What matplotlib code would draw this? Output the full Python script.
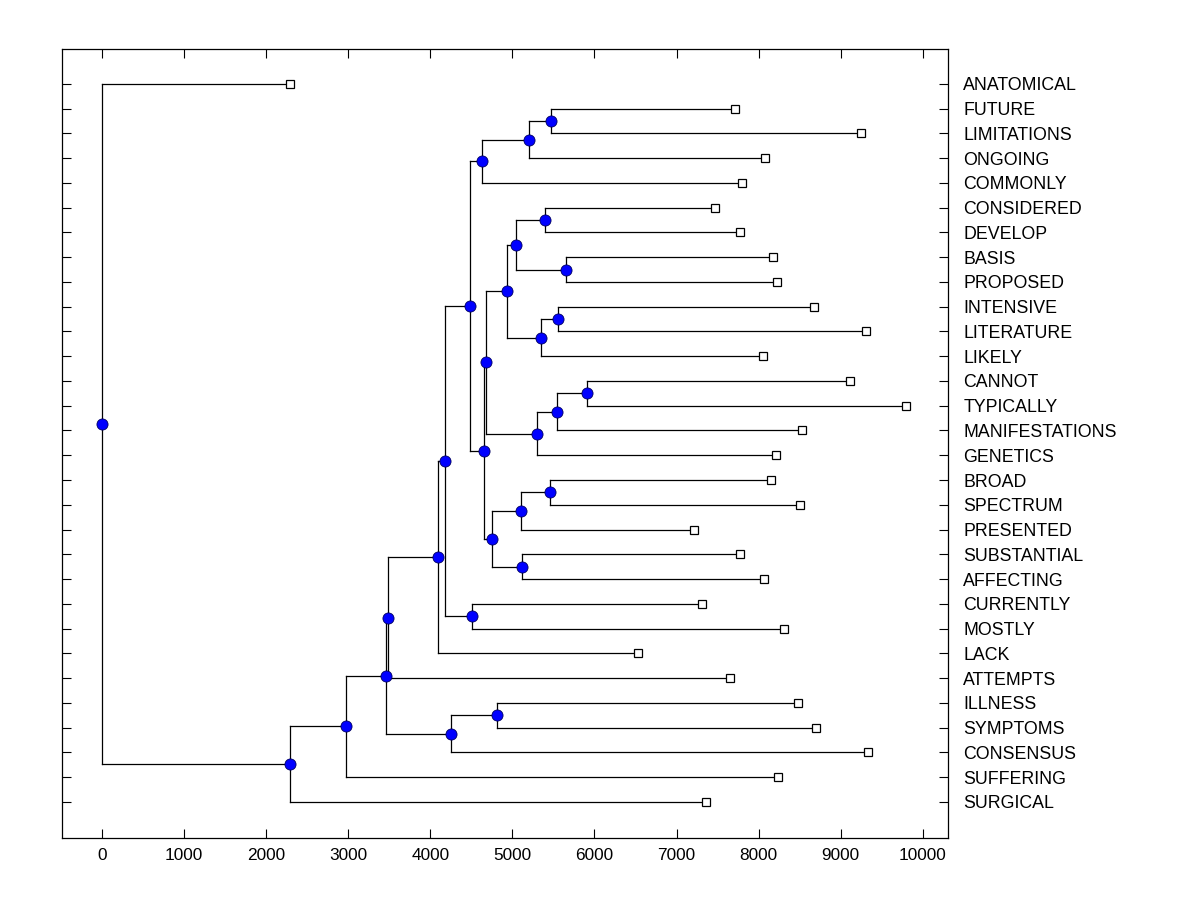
import numpy as np
import matplotlib
matplotlib.use("Agg")
import matplotlib.pyplot as plt

plt.rcParams['font.family'] = ['Liberation Sans', 'DejaVu Sans']

## leaf words, top to bottom, and the x value of each leaf square
words = ["ANATOMICAL", "FUTURE", "LIMITATIONS", "ONGOING", "COMMONLY",
         "CONSIDERED", "DEVELOP", "BASIS", "PROPOSED", "INTENSIVE",
         "LITERATURE", "LIKELY", "CANNOT", "TYPICALLY", "MANIFESTATIONS",
         "GENETICS", "BROAD", "SPECTRUM", "PRESENTED", "SUBSTANTIAL",
         "AFFECTING", "CURRENTLY", "MOSTLY", "LACK", "ATTEMPTS",
         "ILLNESS", "SYMPTOMS", "CONSENSUS", "SUFFERING", "SURGICAL"]
leaf_x = [2292, 7713, 9248, 8078, 7796,
          7470, 7774, 8174, 8222, 8674,
          9309, 8052, 9113, 9796, 8526,
          8213, 8152, 8504, 7213, 7774,
          8065, 7309, 8309, 6530, 7652,
          8478, 8700, 9330, 8235, 7361]

## merges: node 30 is the first row here, 31 the second, ...
merge_left = [1, 30, 31, 5, 7, 33, 9, 36, 35, 12,
              39, 40, 38, 16, 43, 19, 44, 42, 32, 21,
              48, 50, 51, 25, 53, 52, 55, 56, 0]
merge_right = [2, 3, 4, 6, 8, 34, 10, 11, 37, 13,
               14, 15, 41, 17, 18, 20, 45, 46, 47, 22,
               49, 23, 24, 26, 27, 54, 28, 29, 57]
merge_x = [5474, 5204, 4636, 5400, 5657, 5048, 5558, 5353, 4939, 5913,
           5548, 5304, 4680, 5461, 5110, 5121, 4754, 4655, 4485, 4513,
           4180, 4097, 3487, 4818, 4248, 3464, 2974, 2292, 0]

n = len(words)
xs = list(leaf_x)
ys = list(range(n))
for a, b, h in zip(merge_left, merge_right, merge_x):
    xs.append(h)
    ys.append((ys[a] + ys[b]) / 2.0)

fig = plt.figure(figsize=(12, 9), dpi=100)
ax = fig.add_axes([0.052, 0.0686, 0.7376, 0.8767])

for a, b, h in zip(merge_left, merge_right, merge_x):
    ax.plot([h, h], [ys[a], ys[b]], color='black', lw=0.9, zorder=1)
    ax.plot([h, xs[a]], [ys[a], ys[a]], color='black', lw=0.9, zorder=1)
    ax.plot([h, xs[b]], [ys[b], ys[b]], color='black', lw=0.9, zorder=1)

ax.plot(xs[n:], ys[n:], 'o', color='#0000ff', mec='#000060', mew=0.6,
        ms=8, ls='none', zorder=3)
ax.plot(xs[:n], ys[:n], 's', mfc='white', mec='black', mew=0.9,
        ms=6.2, ls='none', zorder=3)

ax.set_xlim(-480, 10300)
ax.set_ylim(n - 1 + 1.47, -1.40)
ax.set_xticks(np.arange(0, 10001, 1000))
ax.set_yticks(range(n))
ax.set_yticklabels(words)
ax.tick_params(axis='x', direction='in', top=True, bottom=True,
               length=6.7, width=0.8, labelsize=12.4, pad=7)
ax.tick_params(axis='y', direction='in', left=True, right=True,
               labelleft=False, labelright=True,
               length=6.2, width=0.8, labelsize=12.8, pad=11.3)
for s in ax.spines.values():
    s.set_linewidth(0.9)

fig.savefig("out.png", dpi=100)
